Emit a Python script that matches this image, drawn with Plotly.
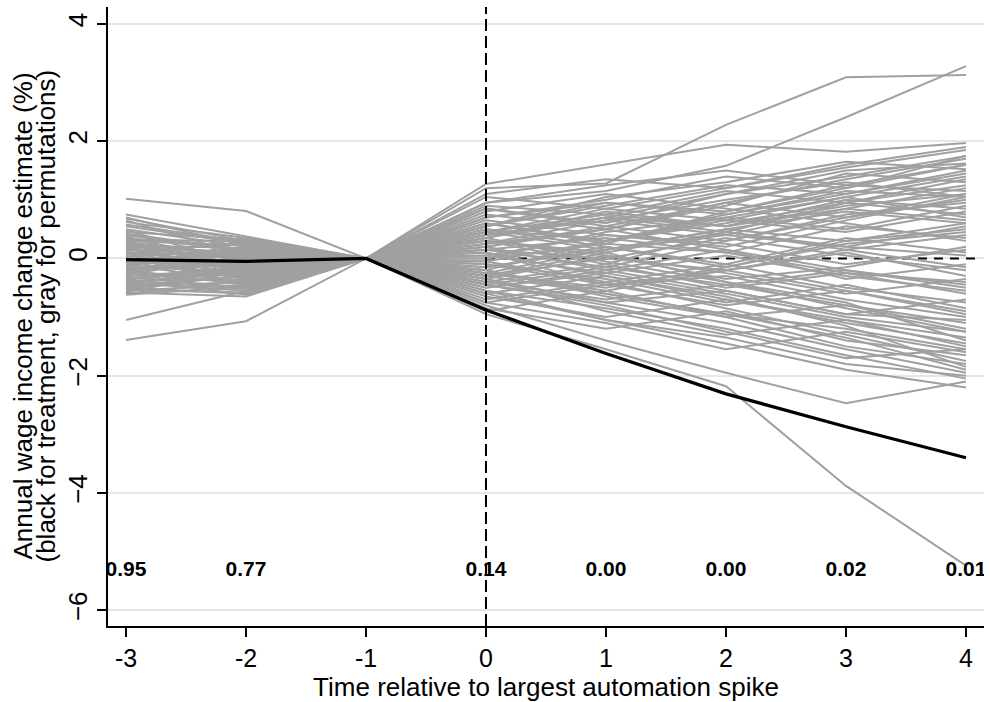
import plotly.graph_objects as go

# Event time relative to the largest automation spike
event_time = [-3, -2, -1, 0, 1, 2, 3, 4]

# Treatment estimates (black line), normalised to 0 at t = -1
treatment = [-0.02, -0.05, 0.00, -0.88, -1.62, -2.31, -2.87, -3.40]

# Permutation estimates (gray lines), one row per placebo draw
permutations = [
    [0.35, 0.15, 0.00, 1.20, 1.28, 2.28, 3.09, 3.13],
    [0.10, 0.05, 0.00, 1.27, 1.61, 1.94, 1.82, 1.97],
    [-0.20, -0.10, 0.00, 0.95, 1.15, 1.58, 2.41, 3.28],
    [0.20, 0.10, 0.00, -0.95, -1.55, -2.18, -3.88, -5.24],
    [-0.30, -0.20, 0.00, -0.80, -1.40, -1.95, -2.47, -2.10],
    [1.02, 0.81, 0.00, 0.40, 0.70, 0.55, 0.90, 1.10],
    [-1.39, -1.07, 0.00, -0.30, -0.60, -0.95, -1.20, -1.55],
    [-1.05, -0.55, 0.00, 0.15, 0.35, 0.10, -0.25, -0.40],
    [0.75, 0.38, 0.00, 1.10, 1.35, 1.20, 1.55, 1.85],
    [0.68, 0.30, 0.00, 0.85, 0.60, 1.10, 1.40, 1.75],
    [0.62, 0.35, 0.00, -0.20, 0.30, 0.75, 1.10, 1.50],
    [0.55, 0.25, 0.00, 0.55, 1.05, 1.30, 1.65, 1.52],
    [0.50, 0.20, 0.00, 0.30, -0.10, 0.45, 0.95, 1.25],
    [0.45, 0.32, 0.00, 0.05, 0.40, 0.20, 0.65, 1.05],
    [0.40, 0.10, 0.00, -0.45, -0.75, -1.10, -1.55, -1.95],
    [0.35, -0.05, 0.00, 0.70, 0.95, 0.80, 1.20, 1.60],
    [0.30, 0.22, 0.00, -0.60, -1.05, -1.45, -1.90, -2.20],
    [0.28, 0.05, 0.00, 0.20, 0.55, 0.95, 0.70, 1.10],
    [0.25, -0.15, 0.00, -0.10, -0.45, -0.30, -0.70, -1.00],
    [0.22, 0.18, 0.00, 0.45, 0.15, 0.50, 0.30, 0.60],
    [0.20, -0.25, 0.00, -0.30, 0.10, -0.40, -0.85, -1.25],
    [0.18, 0.00, 0.00, 0.90, 0.75, 1.15, 0.95, 1.35],
    [0.15, 0.12, 0.00, -0.70, -0.40, -0.85, -1.30, -1.75],
    [0.12, -0.30, 0.00, 0.35, 0.80, 0.55, 1.00, 0.85],
    [0.10, -0.08, 0.00, -0.20, -0.65, -1.00, -0.80, -1.20],
    [0.08, 0.28, 0.00, 0.60, 0.25, 0.80, 1.25, 1.15],
    [0.05, -0.20, 0.00, -0.50, -0.20, 0.15, -0.35, -0.10],
    [0.03, 0.15, 0.00, 0.10, -0.30, -0.70, -1.10, -1.45],
    [0.00, -0.35, 0.00, 1.05, 0.85, 0.65, 1.05, 0.70],
    [-0.02, 0.05, 0.00, -0.85, -1.20, -0.90, -1.40, -1.65],
    [-0.05, -0.12, 0.00, 0.25, 0.50, 0.95, 1.35, 1.70],
    [-0.08, 0.20, 0.00, -0.35, -0.90, -1.30, -1.05, -1.50],
    [-0.10, -0.40, 0.00, 0.50, 0.20, -0.15, 0.25, 0.45],
    [-0.12, 0.08, 0.00, -0.05, 0.30, 0.65, 0.45, 0.80],
    [-0.15, -0.22, 0.00, 0.80, 1.10, 0.85, 0.60, 0.30],
    [-0.18, 0.00, 0.00, -0.60, -0.30, -0.65, -1.15, -1.85],
    [-0.20, -0.45, 0.00, 0.15, -0.15, 0.30, 0.75, 0.95],
    [-0.22, -0.05, 0.00, -0.25, -0.55, -0.20, 0.10, -0.30],
    [-0.25, -0.30, 0.00, 0.40, 0.65, 1.00, 1.30, 1.05],
    [-0.28, 0.12, 0.00, -0.75, -1.10, -1.55, -1.25, -1.60],
    [-0.30, -0.18, 0.00, 0.65, 0.40, 0.25, -0.10, 0.15],
    [-0.32, -0.50, 0.00, -0.15, 0.20, -0.10, -0.50, -0.75],
    [-0.35, -0.10, 0.00, 0.20, -0.20, -0.55, -0.95, -0.70],
    [-0.38, -0.35, 0.00, -0.40, -0.70, -0.45, -0.80, -1.10],
    [-0.40, -0.25, 0.00, 0.55, 0.90, 1.25, 1.10, 1.45],
    [-0.42, -0.55, 0.00, -0.90, -0.55, -1.00, -1.50, -1.80],
    [-0.45, -0.15, 0.00, 0.00, 0.45, 0.70, 0.50, 0.90],
    [-0.48, -0.40, 0.00, 0.30, 0.05, -0.35, -0.15, 0.20],
    [-0.50, -0.60, 0.00, -0.55, -0.85, -1.20, -1.65, -2.05],
    [-0.52, -0.28, 0.00, 0.75, 0.50, 0.90, 1.45, 1.30],
    [-0.55, -0.45, 0.00, -0.30, 0.00, 0.35, 0.05, -0.20],
    [-0.58, -0.65, 0.00, 0.10, -0.45, -0.80, -0.55, -0.95],
    [-0.60, -0.38, 0.00, -0.65, -1.00, -0.70, -1.05, -1.35],
    [0.65, 0.05, 0.00, 0.45, 0.85, 1.20, 1.60, 1.90],
    [0.58, 0.28, 0.00, -0.40, -0.10, -0.50, -0.25, -0.60],
    [0.48, -0.10, 0.00, 0.95, 1.25, 1.50, 1.25, 1.60],
    [0.42, 0.15, 0.00, -0.15, 0.15, 0.40, 0.85, 0.65],
    [0.38, -0.20, 0.00, 0.35, -0.05, -0.40, -0.75, -1.40],
    [0.32, 0.30, 0.00, -0.25, -0.50, -0.15, 0.30, 0.50],
    [0.26, 0.02, 0.00, 0.60, 0.30, 0.60, 0.95, 0.75],
    [0.16, -0.18, 0.00, -0.45, -0.80, -1.25, -1.70, -1.55],
    [0.13, 0.25, 0.00, 0.00, 0.25, 0.10, 0.55, 0.35],
    [0.06, -0.28, 0.00, 0.25, 0.65, 0.40, 0.20, 0.55],
    [-0.04, 0.10, 0.00, -0.10, -0.35, -0.75, -0.45, -0.85],
    [-0.07, -0.32, 0.00, 0.85, 0.55, 0.30, 0.70, 1.00],
    [-0.14, 0.18, 0.00, -0.50, -0.25, 0.05, -0.30, -0.55],
    [-0.17, -0.08, 0.00, 0.45, 0.75, 0.55, 0.85, 1.20],
    [-0.24, -0.42, 0.00, -0.20, -0.60, -0.95, -1.35, -1.90],
    [-0.27, 0.02, 0.00, 0.30, 0.10, 0.45, 0.20, 0.05],
    [-0.34, -0.22, 0.00, -0.35, 0.05, -0.25, -0.60, -0.35],
    [-0.37, -0.52, 0.00, 0.50, 0.30, 0.70, 1.05, 1.40],
    [-0.44, -0.12, 0.00, -0.05, -0.40, -0.10, 0.35, 0.10],
    [-0.47, -0.30, 0.00, 0.20, 0.50, 0.15, -0.20, -0.50],
    [-0.54, -0.58, 0.00, -0.25, 0.15, 0.50, 0.80, 0.60],
    [-0.57, -0.20, 0.00, 0.05, -0.25, -0.60, -1.00, -1.25],
    [-0.62, -0.48, 0.00, 0.40, 0.70, 0.45, 0.15, 0.40],
    [-0.35, -0.62, 0.00, -0.45, -0.15, -0.45, -0.20, -0.45],
    [0.02, 0.35, 0.00, 0.55, 0.95, 0.75, 1.15, 1.05],
    [-0.10, 0.00, 0.00, -0.35, -0.75, -0.55, -0.95, -1.05],
    [0.20, -0.35, 0.00, 0.15, 0.00, -0.20, 0.15, -0.15],
    [0.70, 0.22, 0.00, 0.70, 1.00, 1.40, 1.20, 1.75],
    [-0.25, 0.30, 0.00, 0.35, 0.70, 1.10, 1.50, 1.62],
    [0.10, -0.45, 0.00, -0.55, -1.05, -1.35, -1.80, -2.00],
    [-0.45, 0.05, 0.00, -0.75, -0.45, -0.20, -0.55, -0.90],
]

# Permutation p-values, printed at each event time (none at t = -1)
pvalue_time = [-3, -2, 0, 1, 2, 3, 4]
pvalue_text = ["0.95", "0.77", "0.14", "0.00", "0.00", "0.02", "0.01"]
pvalue_height = -5.32

FONT = "Arial, Liberation Sans, sans-serif"
GRAY = "#A0A0A0"

fig = go.Figure()

# zero reference over the post period, beneath everything else
fig.add_trace(go.Scatter(
    x=[0, 4.09], y=[0, 0], mode="lines",
    line=dict(color="black", width=2, dash="9px,7px"),
    hoverinfo="skip", showlegend=False,
))

for row in permutations:
    fig.add_trace(go.Scatter(
        x=event_time, y=row, mode="lines",
        line=dict(color=GRAY, width=2),
        hoverinfo="skip", showlegend=False,
    ))

fig.add_trace(go.Scatter(
    x=event_time, y=treatment, mode="lines",
    line=dict(color="black", width=3.2),
    showlegend=False,
))

fig.add_trace(go.Scatter(
    x=pvalue_time, y=[pvalue_height] * len(pvalue_time),
    mode="text", text=pvalue_text,
    textfont=dict(family=FONT, size=21, color="black", weight="bold"),
    textposition="middle center",
    hoverinfo="skip", showlegend=False,
))

# vertical marker at the spike
fig.add_shape(
    type="line", xref="x", yref="paper", x0=0, x1=0, y0=0, y1=1,
    line=dict(color="black", width=2, dash="12px,5px"), layer="above",
)

# two-line y title, placed line by line
ytitle_lines = ["Annual wage income change estimate (%)",
                "(black for treatment, gray for permutations)"]
ytitle_px = [22, 45]
L, R, T, B = 108, 6, 7, 74
W, H = 990, 702
for txt, px in zip(ytitle_lines, ytitle_px):
    fig.add_annotation(
        text=txt, xref="paper", yref="paper",
        x=(px - L) / (W - L - R), y=0.5,
        xanchor="center", yanchor="middle",
        textangle=-90, showarrow=False,
        font=dict(family=FONT, size=26, color="black"),
    )

fig.update_layout(
    width=W, height=H,
    margin=dict(l=L, r=R, t=T, b=B),
    paper_bgcolor="white", plot_bgcolor="white",
    font=dict(family=FONT, color="black"),
    xaxis=dict(
        range=[-3.15, 4.15],
        tickvals=event_time, ticktext=[str(t) for t in event_time],
        tickfont=dict(size=25),
        ticks="outside", ticklen=9, tickwidth=1.5, tickcolor="black",
        showline=True, linecolor="black", linewidth=1.5,
        showgrid=False, zeroline=False,
        title=dict(text="Time relative to largest automation spike",
                   font=dict(size=26), standoff=6),
    ),
    yaxis=dict(
        range=[-6.27, 4.29],
        tickvals=[-6, -4, -2, 0, 2, 4],
        tickfont=dict(size=26), tickangle=-90,
        ticks="outside", ticklen=9, tickwidth=1.5, tickcolor="black",
        showline=True, linecolor="black", linewidth=1.5,
        showgrid=True, gridcolor="#E6E6E6", gridwidth=2,
        zeroline=False,
    ),
)

fig.write_html("out.html")
